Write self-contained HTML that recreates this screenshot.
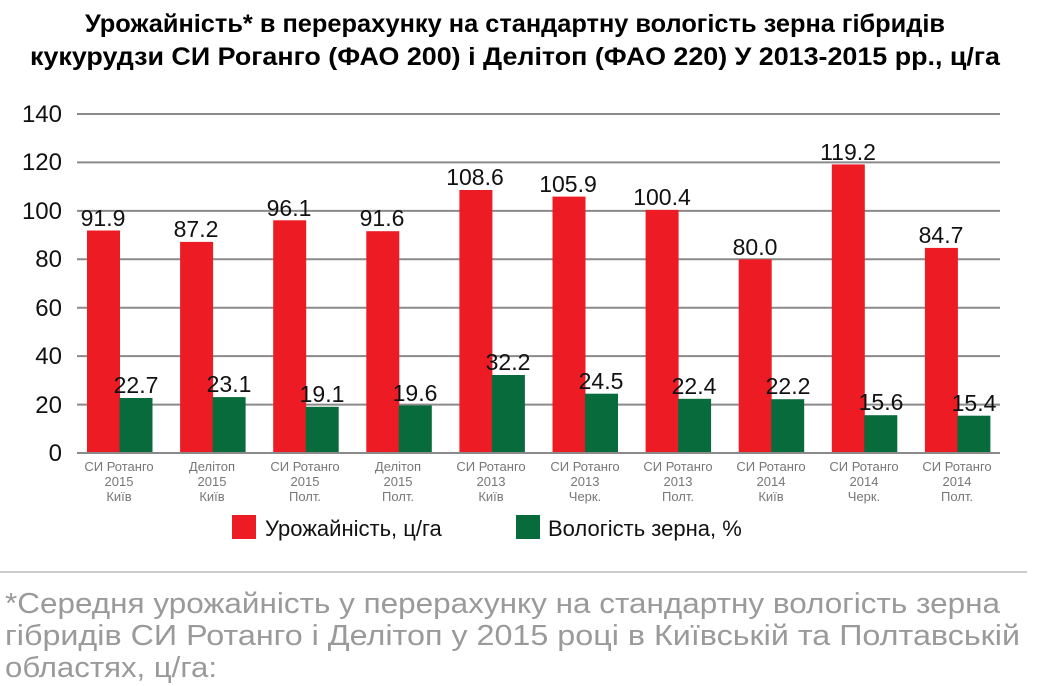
<!DOCTYPE html>
<html><head><meta charset="utf-8"><style>
body{margin:0;background:#fff}
svg{display:block}
text{font-family:"Liberation Sans","DejaVu Sans",sans-serif}
.r{fill:#ed1c24}.g{fill:#086b3c}
.v{font-size:23px;text-anchor:middle;fill:#111}
.c{font-size:13px;text-anchor:middle;fill:#777}
</style></head><body>
<svg width="1037" height="686" xmlns="http://www.w3.org/2000/svg">
<text x="515" y="32" text-anchor="middle" font-size="25" font-weight="bold" textLength="860" lengthAdjust="spacingAndGlyphs">Урожайність* в перерахунку на стандартну вологість зерна гібридів</text>
<text x="515" y="65" text-anchor="middle" font-size="25" font-weight="bold" textLength="970" lengthAdjust="spacingAndGlyphs">кукурудзи СИ Роганго (ФАО 200) і Делітоп (ФАО 220) У 2013-2015 рр., ц/га</text>
<g stroke="#8a8a8a" stroke-width="2">
<line x1="77" x2="1000" y1="114" y2="114"/><line x1="77" x2="1000" y1="162.4" y2="162.4"/>
<line x1="77" x2="1000" y1="210.9" y2="210.9"/><line x1="77" x2="1000" y1="259.3" y2="259.3"/>
<line x1="77" x2="1000" y1="307.7" y2="307.7"/><line x1="77" x2="1000" y1="356.1" y2="356.1"/>
<line x1="77" x2="1000" y1="404.6" y2="404.6"/>
</g>
<g font-size="24" text-anchor="end" fill="#111">
<text x="62" y="122">140</text><text x="62" y="170">120</text><text x="62" y="219">100</text>
<text x="62" y="267">80</text><text x="62" y="316">60</text><text x="62" y="364">40</text>
<text x="62" y="413">20</text><text x="62" y="461">0</text>
</g>
<!-- bars -->
<rect class="r" x="87" y="230.5" width="33" height="222.5"/><rect class="g" x="119.5" y="398" width="33" height="55"/>
<rect class="r" x="180.1" y="241.9" width="33" height="211.1"/><rect class="g" x="212.6" y="397.1" width="33" height="55.9"/>
<rect class="r" x="273.2" y="220.3" width="33" height="232.7"/><rect class="g" x="305.7" y="406.8" width="33" height="46.2"/>
<rect class="r" x="366.3" y="231.2" width="33" height="221.8"/><rect class="g" x="398.8" y="405.5" width="33" height="47.5"/>
<rect class="r" x="459.4" y="190" width="33" height="263"/><rect class="g" x="491.9" y="375" width="33" height="78"/>
<rect class="r" x="552.5" y="196.6" width="33" height="256.4"/><rect class="g" x="585" y="393.7" width="33" height="59.3"/>
<rect class="r" x="645.6" y="209.9" width="33" height="243.1"/><rect class="g" x="678.1" y="398.8" width="33" height="54.2"/>
<rect class="r" x="738.7" y="259.3" width="33" height="193.7"/><rect class="g" x="771.2" y="399.2" width="33" height="53.8"/>
<rect class="r" x="831.8" y="164.4" width="33" height="288.6"/><rect class="g" x="864.3" y="415.2" width="33" height="37.8"/>
<rect class="r" x="924.9" y="247.9" width="33" height="205.1"/><rect class="g" x="957.4" y="415.7" width="33" height="37.3"/>
<line x1="77" x2="1000" y1="453" y2="453" stroke="#8a8a8a" stroke-width="2"/>
<!-- values -->
<text class="v" x="103" y="226">91.9</text><text class="v" x="136" y="393">22.7</text>
<text class="v" x="196" y="237">87.2</text><text class="v" x="229" y="392">23.1</text>
<text class="v" x="289" y="216">96.1</text><text class="v" x="322" y="402">19.1</text>
<text class="v" x="382" y="226">91.6</text><text class="v" x="415" y="401">19.6</text>
<text class="v" x="475" y="185">108.6</text><text class="v" x="508" y="370">32.2</text>
<text class="v" x="568" y="192">105.9</text><text class="v" x="601" y="389">24.5</text>
<text class="v" x="662" y="205">100.4</text><text class="v" x="694" y="394">22.4</text>
<text class="v" x="755" y="255">80.0</text><text class="v" x="788" y="394">22.2</text>
<text class="v" x="848" y="160">119.2</text><text class="v" x="881" y="410">15.6</text>
<text class="v" x="941" y="243">84.7</text><text class="v" x="974" y="411">15.4</text>
<!-- categories -->
<text class="c" x="119"><tspan x="119" y="471">СИ Ротанго</tspan><tspan x="119" y="486">2015</tspan><tspan x="119" y="501">Київ</tspan></text>
<text class="c"><tspan x="212" y="471">Делітоп</tspan><tspan x="212" y="486">2015</tspan><tspan x="212" y="501">Київ</tspan></text>
<text class="c"><tspan x="305" y="471">СИ Ротанго</tspan><tspan x="305" y="486">2015</tspan><tspan x="305" y="501">Полт.</tspan></text>
<text class="c"><tspan x="398" y="471">Делітоп</tspan><tspan x="398" y="486">2015</tspan><tspan x="398" y="501">Полт.</tspan></text>
<text class="c"><tspan x="491" y="471">СИ Ротанго</tspan><tspan x="491" y="486">2013</tspan><tspan x="491" y="501">Київ</tspan></text>
<text class="c"><tspan x="585" y="471">СИ Ротанго</tspan><tspan x="585" y="486">2013</tspan><tspan x="585" y="501">Черк.</tspan></text>
<text class="c"><tspan x="678" y="471">СИ Ротанго</tspan><tspan x="678" y="486">2013</tspan><tspan x="678" y="501">Полт.</tspan></text>
<text class="c"><tspan x="771" y="471">СИ Ротанго</tspan><tspan x="771" y="486">2014</tspan><tspan x="771" y="501">Київ</tspan></text>
<text class="c"><tspan x="864" y="471">СИ Ротанго</tspan><tspan x="864" y="486">2014</tspan><tspan x="864" y="501">Черк.</tspan></text>
<text class="c"><tspan x="957" y="471">СИ Ротанго</tspan><tspan x="957" y="486">2014</tspan><tspan x="957" y="501">Полт.</tspan></text>
<rect x="232" y="515" width="24" height="24" fill="#ed1c24"/>
<text x="265" y="536" font-size="22" fill="#111">Урожайність, ц/га</text>
<rect x="516" y="515" width="24" height="24" fill="#086b3c"/>
<text x="548" y="536" font-size="22" fill="#111">Вологість зерна, %</text>
<line x1="0" x2="1027" y1="572" y2="572" stroke="#bbb" stroke-width="1.5"/>
<g font-size="29" fill="#9a9a9a">
<text x="5" y="613" textLength="995" lengthAdjust="spacingAndGlyphs">*Середня урожайність у перерахунку на стандартну вологість зерна</text>
<text x="5" y="645" textLength="1015" lengthAdjust="spacingAndGlyphs">гібридів СИ Ротанго і Делітоп у 2015 році в Київській та Полтавській</text>
<text x="5" y="677" textLength="212" lengthAdjust="spacingAndGlyphs">областях, ц/га:</text>
</g>
</svg>
</body></html>
